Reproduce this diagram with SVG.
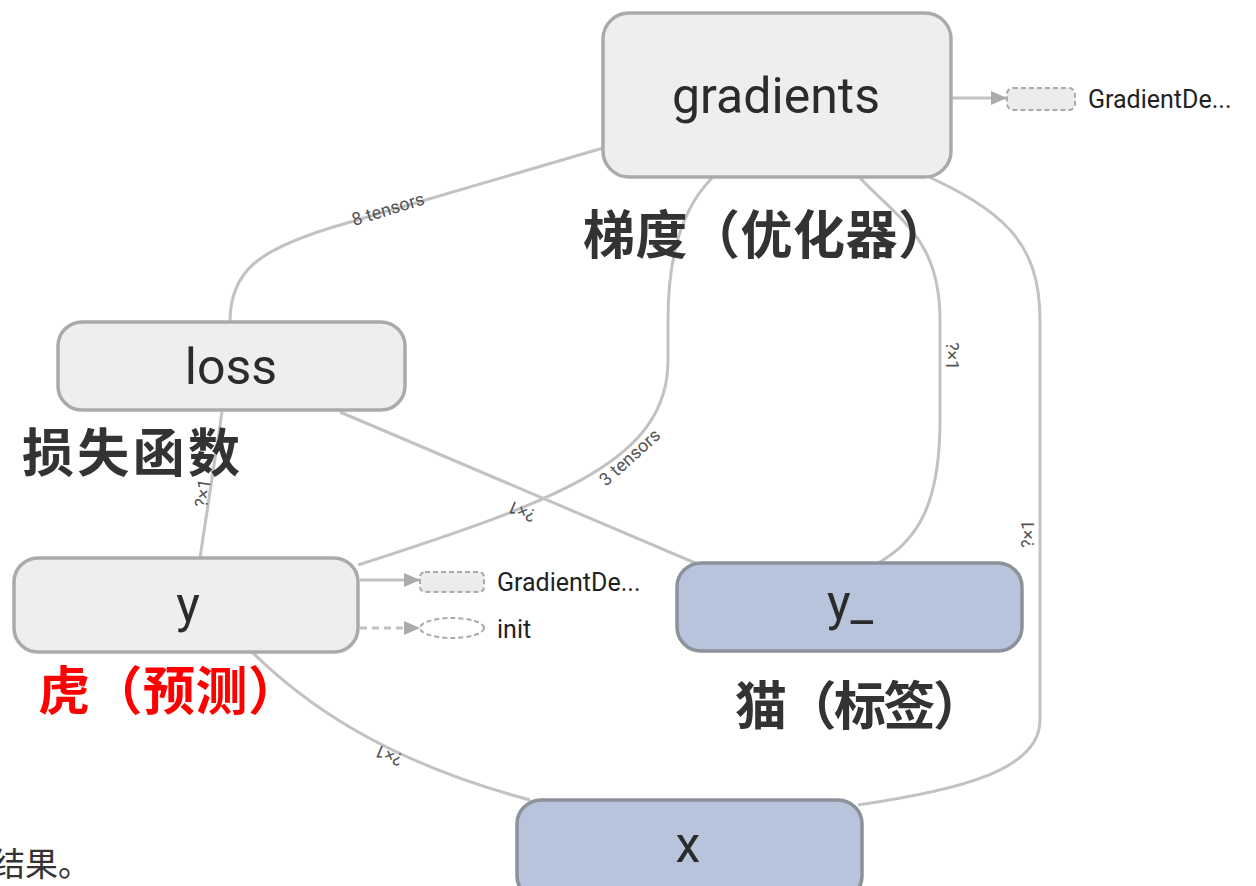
<svg xmlns="http://www.w3.org/2000/svg" width="1256" height="886" viewBox="0 0 1256 886">
<defs>
<marker id="ah" viewBox="0 0 10 10" refX="10" refY="5" markerWidth="16" markerHeight="14" orient="auto" markerUnits="userSpaceOnUse" preserveAspectRatio="none">
<path d="M0,0 L10,5 L0,10 z" fill="#aaaaaa"/>
</marker>
<style>
.node{fill:#eeeeee;stroke:#aaaaaa;stroke-width:3.5}
.blue{fill:#b8c4dc;stroke:#8c919a;stroke-width:3.5}
.ntxt{font-family:Roboto,"Liberation Sans",sans-serif;font-size:50px;fill:#2b2b2b;text-anchor:middle}
.edge{fill:none;stroke:#c2c2c2;stroke-width:3}
.elab{font-family:Roboto,"Liberation Sans",sans-serif;font-size:18px;fill:#555555}
.note{font-family:"Noto Sans CJK SC",sans-serif;font-weight:bold;font-size:52px;fill:#333333}
.small{font-family:Roboto,"Liberation Sans",sans-serif;font-size:25px;fill:#222222}
.ann{fill:#ececec;stroke:#aaaaaa;stroke-width:2;stroke-dasharray:5 3}
</style>
</defs>
<rect width="1256" height="886" fill="#ffffff"/>
<g id="connectors">
<path id="e1" class="edge" d="M230,322 C230,270 260,250 330,228 L603,148"/>
<path id="e2" class="edge" d="M712,178 C680,210 668,260 668,320 L668,360 C668,460 560,500 358,565"/>
<path id="e3" class="edge" d="M860,178 C900,220 940,240 940,320 L940,420 C940,500 920,540 878,563"/>
<path id="e4" class="edge" d="M925,175 C1000,210 1040,240 1040,320 L1040,720 C1040,770 960,790 858,805"/>
<path id="e5" class="edge" d="M340,412 L700,565"/>
<path id="e6" class="edge" d="M200,558 L222,412"/>
<path id="e7" class="edge" d="M250,650 C300,700 380,760 530,800"/>
<path id="e8" class="edge" d="M951,98 L1007,98" marker-end="url(#ah)"/>
<path id="e9" class="edge" d="M360,580 L420,580" marker-end="url(#ah)"/>
<path id="e10" class="edge" d="M360,628 L420,628" stroke-dasharray="7 5" marker-end="url(#ah)"/>
<text class="elab" transform="translate(354,226) rotate(-17)">8 tensors</text>
<text class="elab" transform="translate(606,487) rotate(-42)">3 tensors</text>
<text class="elab" transform="translate(946,342) rotate(90)">?×1</text>
<text class="elab" transform="translate(1034,548) rotate(-90)">?×1</text>
<text class="elab" transform="translate(537,511) rotate(203)">?×1</text>
<text class="elab" transform="translate(207,508) rotate(-82)">?×1</text>
<text class="elab" transform="translate(404,755) rotate(203)">?×1</text>
</g>
<g id="node-gradients">
<rect class="node" x="603" y="13" width="348" height="164" rx="26"/>
<text class="ntxt" x="776" y="113">gradients</text>
</g>
<g id="node-gd1">
<rect class="ann" x="1007" y="88" width="68" height="22" rx="6"/>
<text class="small" x="1088" y="108">GradientDe...</text>
</g>
<g id="node-loss">
<rect class="node" x="58" y="322" width="347" height="88" rx="24"/>
<text class="ntxt" x="231" y="384">loss</text>
</g>
<g id="node-y">
<rect class="node" x="14" y="558" width="344" height="94" rx="24"/>
<text class="ntxt" x="188" y="622">y</text>
</g>
<g id="node-gd2">
<rect class="ann" x="420" y="572" width="64" height="20" rx="5"/>
<text class="small" x="497" y="591">GradientDe...</text>
</g>
<g id="node-init">
<ellipse class="ann" cx="452" cy="628" rx="32" ry="10" style="fill:#ffffff"/>
<text class="small" x="497" y="638">init</text>
</g>
<g id="node-y_">
<rect class="blue" x="677" y="563" width="345" height="88" rx="24"/>
<text class="ntxt" x="850" y="620">y_</text>
</g>
<g id="node-x">
<rect class="blue" x="517" y="800" width="345" height="100" rx="24"/>
<text class="ntxt" x="688" y="862">x</text>
</g>
<g id="labels">
<text class="note" x="583" y="254" textLength="367" lengthAdjust="spacing">梯度（优化器）</text>
<text class="note" x="22" y="472" textLength="218" lengthAdjust="spacing">损失函数</text>
<text class="note" x="38" y="710" style="fill:#ff0000" textLength="262" lengthAdjust="spacing">虎（预测）</text>
<text class="note" x="735" y="725" textLength="250" lengthAdjust="spacing">猫（标签）</text>
<text x="-8" y="876" style="font-family:'Noto Sans CJK SC',sans-serif;font-size:33px;fill:#333333">结果。</text>
</g>
</svg>
